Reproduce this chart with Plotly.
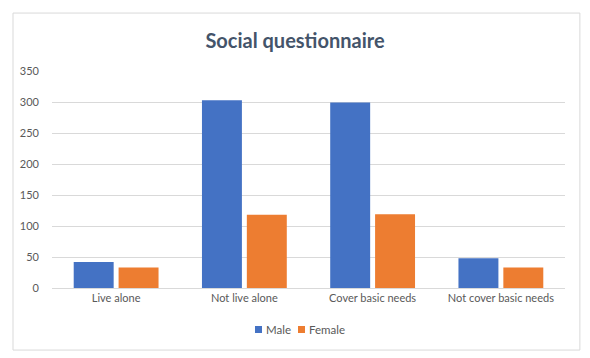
import plotly.graph_objects as go

categories = ["Live alone", "Not live alone", "Cover basic needs", "Not cover basic needs"]
male = [42, 303, 299, 48]
female = [33, 118, 119, 33]
y_ticks = [0, 50, 100, 150, 200, 250, 300, 350]
series_names = ["Male", "Female"]
series_colors = ["#4472C4", "#ED7D31"]

fig = go.Figure()
fig.add_trace(go.Bar(name=series_names[0], x=categories, y=male,
                     marker=dict(color=series_colors[0], line=dict(width=0)), showlegend=False))
fig.add_trace(go.Bar(name=series_names[1], x=categories, y=female,
                     marker=dict(color=series_colors[1], line=dict(width=0)), showlegend=False))

font_family = "Lato, 'Open Sans', sans-serif"
text_color = "#595959"

# custom compact legend (small squares + labels), like the reference
legend_shapes = []
legend_annotations = []
sq_x = [0.3957, 0.4795]
for i, (name, col) in enumerate(zip(series_names, series_colors)):
    legend_shapes.append(dict(type="rect", xref="paper", yref="paper",
                              x0=sq_x[i], x1=sq_x[i] + 0.0137, y0=-0.2074, y1=-0.1751,
                              line=dict(width=0), fillcolor=col))
    legend_annotations.append(dict(text=name, xref="paper", yref="paper",
                                   x=sq_x[i] + 0.0176, y=-0.191, xanchor="left", yanchor="middle",
                                   showarrow=False, font=dict(family=font_family, size=11.5, color=text_color)))

border = dict(type="rect", xref="paper", yref="paper", x0=-0.076, x1=1.029, y0=-0.286, y1=1.267,
              line=dict(color="#D9D9D9", width=1), fillcolor="rgba(0,0,0,0)", layer="below")

fig.update_layout(
    width=590, height=358,
    margin=dict(l=52, r=25, t=71, b=70),
    paper_bgcolor="white", plot_bgcolor="white",
    barmode="group", bargap=0.3, bargroupgap=0.11,
    font=dict(family=font_family, size=11, color=text_color),
    title=dict(text="<b>Social questionnaire</b>", x=0.5, xanchor="center", y=1 - 41/358, yanchor="middle",
               font=dict(family=font_family, size=20, color="#44546A")),
    showlegend=False,
    xaxis=dict(showgrid=False, showline=True, linecolor="#D9D9D9", linewidth=1, ticks="",
               tickfont=dict(size=11, color=text_color)),
    yaxis=dict(range=[0, 350], tickvals=y_ticks, showgrid=True, gridcolor="#D9D9D9", gridwidth=1,
               zeroline=False, showline=False, ticks="", ticklabelstandoff=12,
               tickfont=dict(size=11, color=text_color)),
    shapes=[border] + legend_shapes,
    annotations=legend_annotations,
)

fig.write_html("out.html", config={"displayModeBar": False},
               post_script="document.body.style.margin='0';document.body.style.padding='0';")
